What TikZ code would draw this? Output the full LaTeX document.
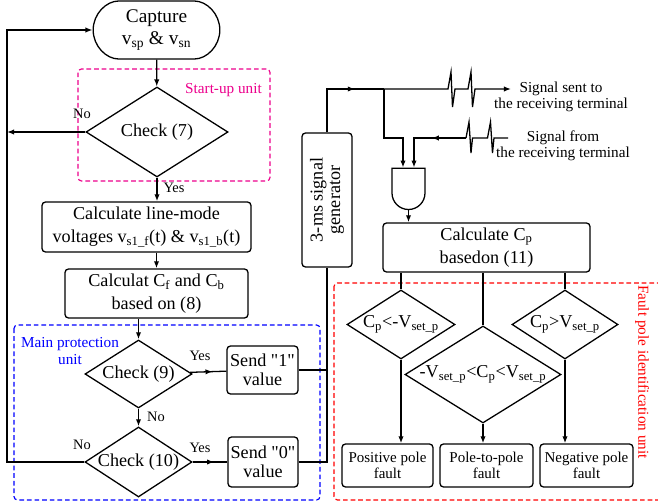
\documentclass[tikz,border=0pt]{standalone}
\usepackage{fontspec}
\setmainfont{Liberation Serif}[Ligatures=TeXOff]
\usetikzlibrary{arrows.meta,%
	shapes.geometric,%
	shapes.misc,%
	shapes.gates.logic.US,
	decorations.markings}

\newcommand{\txtmain}{\fontsize{15.5pt}{19.5pt}\selectfont}
\newcommand{\txtsend}{\fontsize{15.5pt}{16.5pt}\selectfont}
\newcommand{\txtgen}{\fontsize{15.5pt}{15pt}\selectfont}
\newcommand{\txtlab}{\fontsize{13pt}{13.8pt}\selectfont}
\newcommand{\txtyn}{\fontsize{12.3pt}{13pt}\selectfont}
\newcommand{\txtfault}{\fontsize{12.8pt}{13.5pt}\selectfont}

\begin{document}
\begin{tikzpicture}[x=0.03cm, y=-0.03cm]

		\tikzset{
			>={Latex[length=6pt,width=4.5pt]},
			flow/.style={line width=1.1pt},
			procbox/.style={draw, line width=1.1pt, rounded corners=3pt, inner sep=1pt,
					align=center, font=\txtmain},
			checkbox/.style={draw, diamond, line width=1.1pt, inner sep=0pt,
					align=center, font=\txtmain},
			unitbox/.style={line width=1pt, rounded corners=3pt, dash pattern=on 4pt off 2.5pt},
			yesno/.style={font=\txtyn},
			midarrow/.style={decoration={markings, mark=at position #1 with {\arrow{>}}},
					postaction={decorate}}
		}

		\useasboundingbox (0,0) rectangle (658,504);

		%units
		\draw[unitbox, magenta] (78,69) rectangle (270,181);
		\draw[unitbox, blue] (14,325) rectangle (320,500);
		\draw[unitbox, red] (334,283) rectangle (662,500);
		\node[magenta, font=\txtlab] (sul) at (223.5,90) {Start-up unit};
		\node[blue, font=\txtlab, align=center] (mpl) at (70,351) {Main protection\\unit};
		\node[red, font=\txtlab, rotate=-90] (fpl) at (642,372) {Fault pole identification unit};

		%main column
		\node[procbox, rounded rectangle, minimum width=3.87cm, minimum height=1.74cm,
			font=\fontsize{16.5pt}{19.5pt}\selectfont] (cap) at (156.5,30)
			{Capture\\v\textsubscript{sp} \& v\textsubscript{sn}};
		\node[checkbox, shape aspect=1.58, minimum width=4.26cm, minimum height=2.7cm] (c7) at (157,132) {Check (7)};
		\node[procbox, minimum width=6.27cm, minimum height=1.5cm] (lm) at (146.5,227)
			{Calculate line-mode\\voltages v\textsubscript{s1\_f}(t) \& v\textsubscript{s1\_b}(t)};
		\node[procbox, minimum width=5.49cm, minimum height=1.47cm] (cf) at (156.5,293.5)
			{Calculat C\textsubscript{f} and C\textsubscript{b}\\based on (8)};
		\node[checkbox, shape aspect=1.57, minimum width=3.21cm, minimum height=2.04cm] (c9) at (138.5,374) {Check (9)};
		\node[checkbox, shape aspect=1.53, minimum width=3.21cm, minimum height=2.1cm] (c10) at (138.5,462) {Check (10)};
		\node[procbox, font=\txtsend, minimum width=2.13cm, minimum height=1.44cm] (s1) at (262.5,370) {Send "1"\\value};
		\node[procbox, font=\txtsend, minimum width=2.1cm, minimum height=1.5cm] (s0) at (263,462) {Send "0"\\value};

		%signal part
		\node[procbox, font=\txtgen, rotate=90, minimum width=4.02cm, minimum height=1.5cm] (gen) at (327,200)
			{3-ms signal\\generator};
		\node[and gate US, draw, line width=1.1pt, logic gate inputs=nn, rotate=-90, inner sep=0pt,
			minimum width=1.05cm, minimum height=0.99cm] (andg) at (408.5,187.5) {};
		\node[procbox, minimum width=6.21cm, minimum height=1.47cm] (cp) at (486.5,247.5)
			{Calculate C\textsubscript{p}\\basedon (11)};
		\node[font=\txtlab, align=center] (sent) at (561,97) {Signal sent to\\the receiving terminal};
		\node[font=\txtlab, align=center] (from) at (563,146) {Signal from\\the receiving terminal};
		\coordinate (sentin) at (511,89);
		\coordinate (fromout) at (508,138);
		\coordinate (j1) at (384,89);
		\coordinate (j2) at (384,138);

		%fault pole part
		\node[checkbox, shape aspect=1.57, minimum width=3.24cm, minimum height=2.07cm] (d1) at (401,324.5)
			{C\textsubscript{p}<-V\textsubscript{set\_p}};
		\node[checkbox, shape aspect=1.61, minimum width=4.68cm, minimum height=2.91cm] (d2) at (483,374.5)
			{-V\textsubscript{set\_p}<C\textsubscript{p}<V\textsubscript{set\_p}};
		\node[checkbox, shape aspect=1.54, minimum width=3.18cm, minimum height=2.07cm] (d3) at (565,324.5)
			{C\textsubscript{p}>V\textsubscript{set\_p}};
		\node[procbox, font=\txtfault, minimum width=2.73cm, minimum height=1.29cm] (pf) at (387.5,465.5) {Positive pole\\fault};
		\node[procbox, font=\txtfault, minimum width=2.79cm, minimum height=1.29cm] (ppf) at (486.5,465.5) {Pole-to-pole\\fault};
		\node[procbox, font=\txtfault, minimum width=2.79cm, minimum height=1.29cm] (nf) at (586.5,465.5) {Negative pole\\fault};

		%edges main
		\coordinate (fbt) at (7,30);
		\coordinate (fbb) at (7,462);
		\draw[flow,->] (cap) -- (c7);
		\draw[flow,->] (c7.south) -- (c7.south |- lm.north);
		\draw[flow,->] (lm.south -| cf.north) -- (cf.north);
		\draw[flow,->] (cf.south -| c9.north) -- (c9.north);
		\draw[flow,->] (c9) -- (c10);
		\draw[flow,->] (c7.west) -- (c7.west -| fbt);
		\draw[flow,->] (c10.west) -- (fbb) |- (cap.west);
		\draw[flow, midarrow=0.62] (c9) -- (s1);
		\draw[flow, midarrow=0.62] (c10) -- (s0);
		\draw[flow] (s1.east) -- (s1.east -| gen.west);
		\draw[flow] (s0.east) -| (gen.west);

		\node[yesno] (n7) at (82,114) {No};
		\node[yesno] (y7) at (174,188) {Yes};
		\node[yesno] (y9) at (200,356) {Yes};
		\node[yesno] (n9) at (156,417) {No};
		\node[yesno] (n10) at (82,445) {No};
		\node[yesno] (y10) at (200,448) {Yes};

		%edges signal
		\draw[flow, midarrow=0.71] (gen.east) |- (j1);
		\draw[flow,->] (j1) -- ++(64,0) -- ++(3,-17) -- ++(1.5,35) -- ++(2.5,-18)
			-- ++(13,0) -- ++(3,-17) -- ++(1.5,35) -- ++(2.5,-18) -- (sentin);
		\draw[flow,->] (j1) -- (j2) -| (andg.input 2);
		\draw[flow] (fromout) -- ++(-14,0) -- ++(-1.5,15) -- ++(-2,-31) -- ++(-3,16)
			-- ++(-15,0) -- ++(-1.5,15) -- ++(-2,-31) -- ++(-3,16) coordinate (frombrk);
		\draw[flow,->, midarrow=0.42] (frombrk) -| (andg.input 1);
		\draw[flow,->] (andg.output) -- (andg.output |- cp.north);

		%edges fault
		\draw[flow] (cp.south -| d1.north) -- (d1.north);
		\draw[flow] (cp.south -| d2.north) -- (d2.north);
		\draw[flow] (cp.south -| d3.north) -- (d3.north);
		\draw[flow,->] (d1.south) -- (d1.south |- pf.north);
		\draw[flow,->] (d2.south) -- (d2.south |- ppf.north);
		\draw[flow,->] (d3.south) -- (d3.south |- nf.north);
	\end{tikzpicture}
\end{document}
